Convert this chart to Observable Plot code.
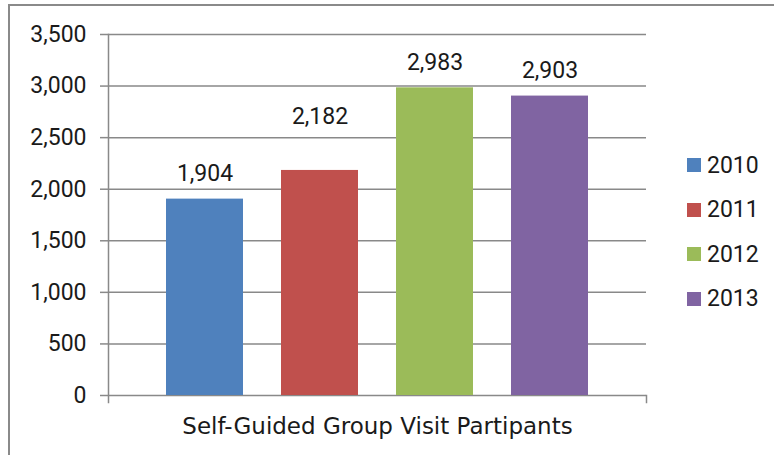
<!DOCTYPE html>
<html>
<head>
<meta charset="utf-8">
<script src="https://cdn.jsdelivr.net/npm/d3@7"></script>
<script src="https://cdn.jsdelivr.net/npm/@observablehq/plot@0.6"></script>
<style>
  html, body { margin: 0; padding: 0; background: #fff; overflow: hidden; }
  #wrap { position: relative; width: 774px; height: 455px; overflow: hidden; font-family: Roboto, sans-serif; }
  #border { position: absolute; left: 8px; top: 4px; width: 820px; height: 520px; border: 2px solid #8a8a8a; box-sizing: border-box; }
  #chart { position: absolute; left: 0; top: 0; }
  #legend { position: absolute; left: 687px; top: 143px; }
  .item { display: flex; align-items: center; height: 44.5px; font-size: 23px; color: #1a1a1a; }
  .sw { width: 14px; height: 14px; margin-right: 6px; }
</style>
</head>
<body>
<div id="wrap">
  <div id="border"></div>
  <div id="chart"></div>
  <div id="legend"></div>
</div>
<script>
const years = ["2010", "2011", "2012", "2013"];
const values = [1904, 2182, 2983, 2903];
const colors = ["#4F81BD", "#C0504D", "#9BBB59", "#8064A2"];
const yTicks = [0, 500, 1000, 1500, 2000, 2500, 3000, 3500];
const categoryLabel = "Self-Guided Group Visit Partipants";

const data = years.map((y, i) => ({year: y, value: values[i]}));

const W = 774, H = 455;
const mTop = 34, mBottom = 60, mLeft = 108, mRight = 128;
const plotH = H - mTop - mBottom;
const gray = "#898989";
const fontSize = 23;
const ink = "#1a1a1a";

const chart = Plot.plot({
  width: W,
  height: H,
  marginTop: mTop,
  marginBottom: mBottom,
  marginLeft: mLeft,
  marginRight: mRight,
  style: {fontFamily: "Roboto, sans-serif", fontSize: fontSize + "px", color: ink, background: "transparent", overflow: "visible"},
  x: {type: "band", domain: years, paddingInner: 0.33, paddingOuter: 0.5, axis: null},
  y: {domain: [0, 3500], axis: null},
  color: {domain: years, range: colors},
  marks: [
    Plot.ruleY(yTicks, {stroke: gray, strokeWidth: 1.5}),
    Plot.barY(data, {x: "year", y: "value", fill: "year"}),
    Plot.frame({anchor: "left", stroke: gray, strokeWidth: 1.5, strokeOpacity: 1, insetBottom: -7}),
    Plot.frame({anchor: "right", stroke: gray, strokeWidth: 1.5, strokeOpacity: 1, insetTop: plotH, insetBottom: -7}),
    Plot.axisY({ticks: yTicks, tickFormat: d3.format(","), tickSize: 8, tickPadding: 14, stroke: gray, strokeWidth: 1.5, strokeOpacity: 1, label: null, fontSize: fontSize, fill: ink}),
    Plot.text(data.filter(d => d.year !== "2011"), {x: "year", y: "value", text: d => d3.format(",")(d.value), dy: -25, fontSize: fontSize, fill: ink}),
    Plot.text(data.filter(d => d.year === "2011"), {x: "year", y: "value", text: d => d3.format(",")(d.value), dy: -54, fontSize: fontSize, fill: ink}),
    Plot.text([categoryLabel], {frameAnchor: "bottom", dy: 38, fontSize: fontSize, fontFamily: "DejaVu Sans, sans-serif", fill: ink})
  ]
});
document.getElementById("chart").appendChild(chart);

const legend = document.getElementById("legend");
years.forEach((y, i) => {
  const item = document.createElement("div");
  item.className = "item";
  const sw = document.createElement("div");
  sw.className = "sw";
  sw.style.background = colors[i];
  const t = document.createElement("span");
  t.textContent = y;
  item.appendChild(sw);
  item.appendChild(t);
  legend.appendChild(item);
});
</script>
</body>
</html>
